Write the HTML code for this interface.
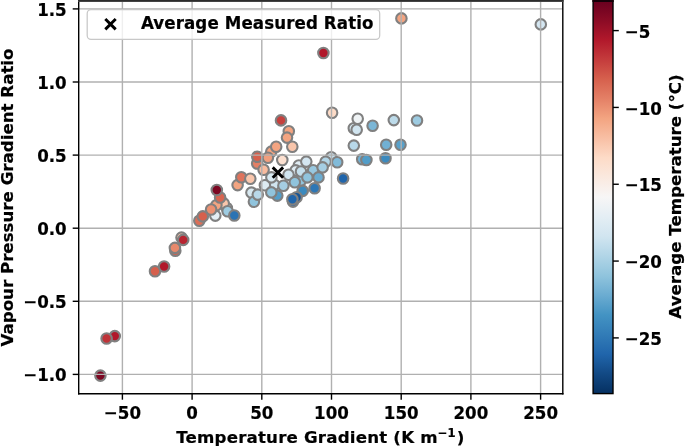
<!DOCTYPE html><html><head><meta charset="utf-8"><style>html,body{margin:0;padding:0;background:#fff;}svg{display:block;}</style></head><body><svg width="685" height="447" viewBox="0 0 685 447">
<rect x="0" y="0" width="685" height="447" fill="#ffffff"/>
<defs><clipPath id="ax"><rect x="78.7" y="0.3" width="484.09999999999997" height="393.4"/></clipPath><linearGradient id="cb" x1="0" y1="1" x2="0" y2="0"><stop offset="0.000" stop-color="#053061"/><stop offset="0.050" stop-color="#124984"/><stop offset="0.100" stop-color="#2065ab"/><stop offset="0.150" stop-color="#327cb7"/><stop offset="0.200" stop-color="#4393c3"/><stop offset="0.250" stop-color="#6bacd1"/><stop offset="0.300" stop-color="#90c4dd"/><stop offset="0.350" stop-color="#b1d5e7"/><stop offset="0.400" stop-color="#d1e5f0"/><stop offset="0.450" stop-color="#e4eef4"/><stop offset="0.500" stop-color="#f7f6f6"/><stop offset="0.550" stop-color="#fae9df"/><stop offset="0.600" stop-color="#fddbc7"/><stop offset="0.650" stop-color="#f8bfa4"/><stop offset="0.700" stop-color="#f3a481"/><stop offset="0.750" stop-color="#e48066"/><stop offset="0.800" stop-color="#d6604d"/><stop offset="0.850" stop-color="#c43b3c"/><stop offset="0.900" stop-color="#b1182b"/><stop offset="0.950" stop-color="#8a0b25"/><stop offset="1.000" stop-color="#67001f"/></linearGradient></defs>
<g clip-path="url(#ax)" stroke="#808080" stroke-width="2.1">
<circle cx="175.3" cy="250.8" r="5.25" fill="#d6604d"/>
<circle cx="181.5" cy="237.6" r="5.25" fill="#f9c6ac"/>
<circle cx="199.3" cy="220.8" r="5.25" fill="#dc6e57"/>
<circle cx="226.8" cy="208.0" r="5.25" fill="#fae9df"/>
<circle cx="257.2" cy="163.5" r="5.25" fill="#e48066"/>
<circle cx="298.8" cy="165.5" r="5.25" fill="#e0ecf3"/>
<circle cx="331.2" cy="157.2" r="5.25" fill="#c5dfec"/>
<circle cx="353.8" cy="128.2" r="5.25" fill="#d8e9f1"/>
<circle cx="362.2" cy="159.2" r="5.25" fill="#71b0d3"/>
<circle cx="100.4" cy="375.6" r="5.25" fill="#7c0722"/>
<circle cx="114.8" cy="336.1" r="5.25" fill="#b1182b"/>
<circle cx="155.0" cy="271.2" r="5.25" fill="#d6604d"/>
<circle cx="164.1" cy="266.5" r="5.25" fill="#b1182b"/>
<circle cx="174.9" cy="247.9" r="5.25" fill="#e8896c"/>
<circle cx="183.2" cy="239.9" r="5.25" fill="#b82531"/>
<circle cx="202.8" cy="216.4" r="5.25" fill="#d6604d"/>
<circle cx="215.3" cy="215.6" r="5.25" fill="#e4eef4"/>
<circle cx="223.7" cy="203.4" r="5.25" fill="#f9c6ac"/>
<circle cx="237.6" cy="185.1" r="5.25" fill="#f3a481"/>
<circle cx="241.3" cy="177.3" r="5.25" fill="#de735c"/>
<circle cx="250.3" cy="178.7" r="5.25" fill="#f9c6ac"/>
<circle cx="251.4" cy="192.6" r="5.25" fill="#d8e9f1"/>
<circle cx="253.9" cy="201.8" r="5.25" fill="#90c4dd"/>
<circle cx="257.3" cy="156.8" r="5.25" fill="#d6604d"/>
<circle cx="263.6" cy="169.8" r="5.25" fill="#f8bb9e"/>
<circle cx="271.3" cy="151.6" r="5.25" fill="#f3a481"/>
<circle cx="276.2" cy="146.7" r="5.25" fill="#f3a481"/>
<circle cx="281.0" cy="120.4" r="5.25" fill="#c6413e"/>
<circle cx="288.8" cy="131.3" r="5.25" fill="#f3a481"/>
<circle cx="292.3" cy="146.7" r="5.25" fill="#f9c6ac"/>
<circle cx="282.3" cy="160.0" r="5.25" fill="#fce0d0"/>
<circle cx="295.6" cy="170.4" r="5.25" fill="#e0ecf3"/>
<circle cx="306.3" cy="161.6" r="5.25" fill="#d4e6f1"/>
<circle cx="313.2" cy="170.2" r="5.25" fill="#98c8e0"/>
<circle cx="300.9" cy="180.5" r="5.25" fill="#90c4dd"/>
<circle cx="274.2" cy="184.7" r="5.25" fill="#d1e5f0"/>
<circle cx="264.9" cy="185.2" r="5.25" fill="#ddebf2"/>
<circle cx="293.0" cy="201.6" r="5.25" fill="#2065ab"/>
<circle cx="318.5" cy="177.4" r="5.25" fill="#6bacd1"/>
<circle cx="325.6" cy="161.7" r="5.25" fill="#b1d5e7"/>
<circle cx="337.2" cy="162.2" r="5.25" fill="#81bad8"/>
<circle cx="343.1" cy="178.5" r="5.25" fill="#2065ab"/>
<circle cx="332.1" cy="112.8" r="5.25" fill="#fddbc7"/>
<circle cx="357.7" cy="118.8" r="5.25" fill="#eff3f5"/>
<circle cx="356.7" cy="129.7" r="5.25" fill="#d1e5f0"/>
<circle cx="372.6" cy="125.8" r="5.25" fill="#7bb6d6"/>
<circle cx="353.8" cy="145.6" r="5.25" fill="#b8d8e9"/>
<circle cx="366.4" cy="160.0" r="5.25" fill="#529dc8"/>
<circle cx="385.5" cy="158.3" r="5.25" fill="#3c8abe"/>
<circle cx="386.2" cy="144.7" r="5.25" fill="#71b0d3"/>
<circle cx="400.5" cy="144.8" r="5.25" fill="#59a1ca"/>
<circle cx="393.8" cy="120.1" r="5.25" fill="#bddbea"/>
<circle cx="417.0" cy="120.5" r="5.25" fill="#9dcbe1"/>
<circle cx="401.4" cy="18.4" r="5.25" fill="#f3a481"/>
<circle cx="323.4" cy="53.0" r="5.25" fill="#b1182b"/>
<circle cx="540.8" cy="24.4" r="5.25" fill="#d4e6f1"/>
<circle cx="106.6" cy="338.5" r="5.25" fill="#bf3338"/>
<circle cx="216.4" cy="205.3" r="5.25" fill="#f3a481"/>
<circle cx="257.8" cy="194.6" r="5.25" fill="#b8d8e9"/>
<circle cx="267.9" cy="157.7" r="5.25" fill="#f19e7d"/>
<circle cx="287.0" cy="137.6" r="5.25" fill="#f3a481"/>
<circle cx="271.4" cy="177.4" r="5.25" fill="#d8e9f1"/>
<circle cx="288.5" cy="174.8" r="5.25" fill="#d1e5f0"/>
<circle cx="301.0" cy="171.5" r="5.25" fill="#c5dfec"/>
<circle cx="294.8" cy="182.3" r="5.25" fill="#90c4dd"/>
<circle cx="283.4" cy="185.7" r="5.25" fill="#a5cee3"/>
<circle cx="277.3" cy="195.6" r="5.25" fill="#529dc8"/>
<circle cx="302.7" cy="190.9" r="5.25" fill="#3c8abe"/>
<circle cx="314.6" cy="188.2" r="5.25" fill="#2e77b5"/>
<circle cx="296.6" cy="197.3" r="5.25" fill="#185493"/>
<circle cx="322.6" cy="167.4" r="5.25" fill="#a5cee3"/>
<circle cx="211.1" cy="209.5" r="5.25" fill="#eb9172"/>
<circle cx="227.6" cy="211.3" r="5.25" fill="#9dcbe1"/>
<circle cx="307.4" cy="177.4" r="5.25" fill="#90c4dd"/>
<circle cx="271.3" cy="192.4" r="5.25" fill="#90c4dd"/>
<circle cx="292.4" cy="199.3" r="5.25" fill="#2065ab"/>
<circle cx="220.1" cy="197.5" r="5.25" fill="#d86551"/>
<circle cx="234.3" cy="215.5" r="5.25" fill="#2b73b3"/>
<circle cx="216.8" cy="190.0" r="5.25" fill="#7c0722"/>
</g>
<g stroke="#b0b0b0" stroke-width="1.4"><line x1="122.40" y1="0.3" x2="122.40" y2="393.7"/><line x1="192.10" y1="0.3" x2="192.10" y2="393.7"/><line x1="261.80" y1="0.3" x2="261.80" y2="393.7"/><line x1="331.50" y1="0.3" x2="331.50" y2="393.7"/><line x1="401.20" y1="0.3" x2="401.20" y2="393.7"/><line x1="470.90" y1="0.3" x2="470.90" y2="393.7"/><line x1="540.60" y1="0.3" x2="540.60" y2="393.7"/><line x1="78.7" y1="374.40" x2="562.8" y2="374.40"/><line x1="78.7" y1="301.30" x2="562.8" y2="301.30"/><line x1="78.7" y1="228.20" x2="562.8" y2="228.20"/><line x1="78.7" y1="155.10" x2="562.8" y2="155.10"/><line x1="78.7" y1="82.00" x2="562.8" y2="82.00"/><line x1="78.7" y1="8.90" x2="562.8" y2="8.90"/></g>
<path d="M272.70 167.40L283.10 177.80M272.70 177.80L283.10 167.40" stroke="#000" stroke-width="2.9" fill="none"/>
<g stroke="#000" stroke-width="1.4"><line x1="78.7" y1="0" x2="78.7" y2="394.4"/><line x1="562.8" y1="0" x2="562.8" y2="394.4"/><line x1="78.0" y1="393.7" x2="563.5" y2="393.7"/></g>
<rect x="78.0" y="0" width="485.49999999999994" height="1" fill="#2c2c2c"/><rect x="78.0" y="1" width="485.49999999999994" height="1" fill="#444"/>
<g stroke="#000" stroke-width="1.4"><line x1="122.40" y1="393.7" x2="122.40" y2="399.7"/><line x1="192.10" y1="393.7" x2="192.10" y2="399.7"/><line x1="261.80" y1="393.7" x2="261.80" y2="399.7"/><line x1="331.50" y1="393.7" x2="331.50" y2="399.7"/><line x1="401.20" y1="393.7" x2="401.20" y2="399.7"/><line x1="470.90" y1="393.7" x2="470.90" y2="399.7"/><line x1="540.60" y1="393.7" x2="540.60" y2="399.7"/><line x1="72.7" y1="374.40" x2="78.7" y2="374.40"/><line x1="72.7" y1="301.30" x2="78.7" y2="301.30"/><line x1="72.7" y1="228.20" x2="78.7" y2="228.20"/><line x1="72.7" y1="155.10" x2="78.7" y2="155.10"/><line x1="72.7" y1="82.00" x2="78.7" y2="82.00"/><line x1="72.7" y1="8.90" x2="78.7" y2="8.90"/></g>
<g font-family="DejaVu Sans, Liberation Sans, sans-serif" font-weight="bold" font-size="16.67" fill="#000" stroke="#000" stroke-width="0.2"><text transform="translate(66.70 381.30) scale(1 1.06)" text-anchor="end">−1.0</text><text transform="translate(66.70 308.20) scale(1 1.06)" text-anchor="end">−0.5</text><text transform="translate(66.70 235.10) scale(1 1.06)" text-anchor="end">0.0</text><text transform="translate(66.70 162.00) scale(1 1.06)" text-anchor="end">0.5</text><text transform="translate(66.70 88.90) scale(1 1.06)" text-anchor="end">1.0</text><text transform="translate(66.70 15.80) scale(1 1.06)" text-anchor="end">1.5</text><text transform="translate(122.40 418.60) scale(1 1.06)" text-anchor="middle">−50</text><text transform="translate(192.10 418.60) scale(1 1.06)" text-anchor="middle">0</text><text transform="translate(261.80 418.60) scale(1 1.06)" text-anchor="middle">50</text><text transform="translate(331.50 418.60) scale(1 1.06)" text-anchor="middle">100</text><text transform="translate(401.20 418.60) scale(1 1.06)" text-anchor="middle">150</text><text transform="translate(470.90 418.60) scale(1 1.06)" text-anchor="middle">200</text><text transform="translate(540.60 418.60) scale(1 1.06)" text-anchor="middle">250</text><text x="176.2" y="443.1" textLength="261.4" lengthAdjust="spacing">Temperature Gradient (K m</text><text x="437.7" y="437.1" font-size="11.67">−</text><text x="447.5" y="437.1" font-size="11.67">1</text><text x="456.8" y="443.1">)</text><text transform="translate(12.80 197.50) rotate(-90)" text-anchor="middle">Vapour Pressure Gradient Ratio</text><text transform="translate(680.60 196.50) rotate(-90)" text-anchor="middle">Average Temperature (°C)</text></g>
<rect x="87.2" y="9.7" width="292.5" height="29.6" rx="3.8" ry="3.8" fill="#ffffff" fill-opacity="0.8" stroke="#c8c8c8" stroke-width="1.25"/>
<path d="M105.30 19.00L115.70 29.40M105.30 29.40L115.70 19.00" stroke="#000" stroke-width="2.9" fill="none"/>
<g font-family="DejaVu Sans, Liberation Sans, sans-serif" font-weight="bold" font-size="16.67" stroke="#000" stroke-width="0.2"><text transform="translate(140.9 28.6) scale(1 1.06)" textLength="232.6" lengthAdjust="spacing">Average Measured Ratio</text></g>
<rect x="593.1" y="0.3" width="19.899999999999977" height="393.3" fill="url(#cb)"/>
<rect x="593.1" y="0.75" width="19.899999999999977" height="392.85" fill="none" stroke="#000" stroke-width="1.4"/>
<rect x="592.4" y="0" width="21.299999999999976" height="2" fill="#140008"/>
<g stroke="#000" stroke-width="1.4"><line x1="613.0" y1="30.60" x2="618.8" y2="30.60"/><line x1="613.0" y1="107.43" x2="618.8" y2="107.43"/><line x1="613.0" y1="184.25" x2="618.8" y2="184.25"/><line x1="613.0" y1="261.07" x2="618.8" y2="261.07"/><line x1="613.0" y1="337.90" x2="618.8" y2="337.90"/></g>
<g font-family="DejaVu Sans, Liberation Sans, sans-serif" font-weight="bold" font-size="16.67" stroke="#000" stroke-width="0.2"><text transform="translate(624.70 37.80) scale(1 1.06)">−5</text><text transform="translate(624.70 114.63) scale(1 1.06)">−10</text><text transform="translate(624.70 191.45) scale(1 1.06)">−15</text><text transform="translate(624.70 268.27) scale(1 1.06)">−20</text><text transform="translate(624.70 345.10) scale(1 1.06)">−25</text></g>
</svg></body></html>
